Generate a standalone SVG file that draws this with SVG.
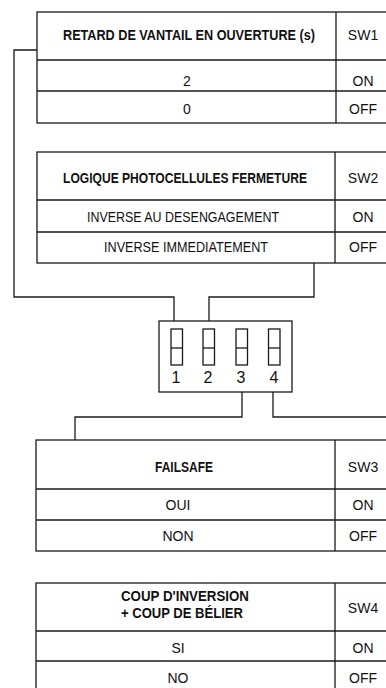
<svg xmlns="http://www.w3.org/2000/svg" width="386" height="688" viewBox="0 0 386 688">
<style>
.b{fill:#fff;stroke:#1a1a1a;stroke-width:1.3}
.l{fill:none;stroke:#1a1a1a;stroke-width:1.3}
text{font-family:"Liberation Sans",Arial,sans-serif;fill:#111;text-anchor:middle;font-size:14px}
.h{font-weight:bold}
.d{font-size:16px}
</style>
<rect width="386" height="688" fill="#fff"/>
<g id="connectors" class="l">
<polyline points="37,50 14,50 14,297 174,297 174,321"/>
<polyline points="314,263 314,297 209,297 209,321"/>
<polyline points="242,392 242,417 75,417 75,440"/>
<polyline points="273,392 273,417 390,417"/>
</g>
<g id="sw1-table">
<rect class="b" x="37" y="12" width="355" height="111"/>
<line class="l" x1="336" y1="12" x2="336" y2="123"/>
<line class="l" x1="37" y1="60" x2="392" y2="60"/>
<line class="l" x1="37" y1="91" x2="392" y2="91"/>
<text class="h" x="189" y="40" textLength="252" lengthAdjust="spacingAndGlyphs">RETARD DE VANTAIL EN OUVERTURE (s)</text>
<text x="363" y="40">SW1</text>
<text x="187" y="86">2</text>
<text x="363" y="86">ON</text>
<text x="187" y="114">0</text>
<text x="363" y="114">OFF</text>
</g>
<g id="sw2-table">
<rect class="b" x="37" y="152" width="355" height="111"/>
<line class="l" x1="335" y1="152" x2="335" y2="263"/>
<line class="l" x1="37" y1="200" x2="392" y2="200"/>
<line class="l" x1="37" y1="232" x2="392" y2="232"/>
<text class="h" x="185" y="183" textLength="244" lengthAdjust="spacingAndGlyphs">LOGIQUE PHOTOCELLULES FERMETURE</text>
<text x="363" y="183">SW2</text>
<text x="183" y="222" textLength="192" lengthAdjust="spacingAndGlyphs">INVERSE AU DESENGAGEMENT</text>
<text x="363" y="222">ON</text>
<text x="186" y="252" textLength="164" lengthAdjust="spacingAndGlyphs">INVERSE IMMEDIATEMENT</text>
<text x="363" y="252">OFF</text>
</g>
<g id="dip-switch">
<rect class="b" x="159" y="321" width="133" height="71"/>
<rect class="l" x="171" y="329" width="11.5" height="36"/>
<line class="l" x1="171" y1="348" x2="182.5" y2="348"/>
<rect class="l" x="203" y="329" width="11.5" height="36"/>
<line class="l" x1="203" y1="348" x2="214.5" y2="348"/>
<rect class="l" x="236" y="329" width="11.5" height="36"/>
<line class="l" x1="236" y1="348" x2="247.5" y2="348"/>
<rect class="l" x="268.5" y="329" width="11.5" height="36"/>
<line class="l" x1="268.5" y1="348" x2="280" y2="348"/>
<text class="d" x="176" y="383">1</text>
<text class="d" x="208" y="383">2</text>
<text class="d" x="241" y="383">3</text>
<text class="d" x="274" y="383">4</text>
</g>
<g id="sw3-table">
<rect class="b" x="36" y="440" width="356" height="111"/>
<line class="l" x1="335" y1="440" x2="335" y2="551"/>
<line class="l" x1="36" y1="489" x2="392" y2="489"/>
<line class="l" x1="36" y1="520" x2="392" y2="520"/>
<text class="h" x="184" y="472" textLength="58" lengthAdjust="spacingAndGlyphs">FAILSAFE</text>
<text x="363" y="472">SW3</text>
<text x="178" y="510">OUI</text>
<text x="363" y="510">ON</text>
<text x="178" y="541">NON</text>
<text x="363" y="541">OFF</text>
</g>
<g id="sw4-table">
<rect class="b" x="36" y="583" width="356" height="115"/>
<line class="l" x1="335" y1="583" x2="335" y2="698"/>
<line class="l" x1="36" y1="631" x2="392" y2="631"/>
<line class="l" x1="36" y1="661" x2="392" y2="661"/>
<text class="h" x="185" y="601" textLength="128" lengthAdjust="spacingAndGlyphs">COUP D'INVERSION</text>
<text class="h" x="182" y="618" textLength="122" lengthAdjust="spacingAndGlyphs">+ COUP DE BÉLIER</text>
<text x="363" y="613">SW4</text>
<text x="178" y="653">SI</text>
<text x="363" y="653">ON</text>
<text x="178" y="683">NO</text>
<text x="363" y="683">OFF</text>
</g>
</svg>
